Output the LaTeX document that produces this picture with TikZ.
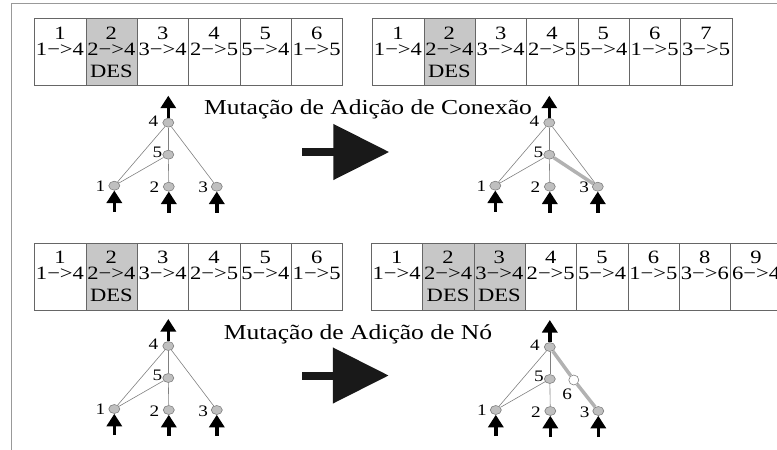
\documentclass[tikz,border=0pt]{standalone}
\usepackage{fontspec}
\setmainfont{Liberation Serif}[FakeStretch=1.2]
\usetikzlibrary{arrows.meta,shapes.geometric}

% one genome: #1 name prefix, #2 left x, #3 top y, #4 list innov/gene/disabled
\newcommand\genome[4]{%
  \foreach \n/\g/\d [count=\i from 0] in {#4} {
    \ifnum\d=1
      \def\cellfill{black!22}\def\celltext{\rule{0pt}{14pt}\n\\\g\\[6.4pt]DES}%
    \else
      \def\cellfill{white}\def\celltext{\rule{0pt}{14pt}\n\\\g}%
    \fi
    \node[cellbox, fill=\cellfill] (#1c\n) at ({#2+\i*51.35},#3) {};
    \node[celltxt] (#1t\n) at ({#2+(\i+0.5)*51.35},{#3+7}) {\celltext};
  }%
}

% one network: #1 name prefix, #2/#3 position of output neuron 4, #4 extra drawing
\newcommand\network[4]{%
  \begin{scope}[shift={(#2,#3)}, name prefix=#1]
    \node[neuron] (4) at (0,0) {};
    \node[neuron] (5) at (0,32) {};
    \node[neuron] (1) at (-54,63) {};
    \node[neuron] (2) at (0.5,64) {};
    \node[neuron] (3) at (48.5,64) {};
    \node[lbl] (l4) at (-14.8,-1.5) {4};
    \node[lbl] (l5) at (-11,29.5) {5};
    \node[lbl] (l1) at (-68,63.5) {1};
    \node[lbl] (l2) at (-13.8,65) {2};
    \node[lbl] (l3) at (34.8,65) {3};
    \draw[link] (1) -- (4);
    \draw[link] (1) -- (5);
    \draw[link] (2) -- (5);
    \draw[link] (5) -- (4);
    \coordinate (o) at (0,-27);
    \coordinate (i1) at (-54,89);
    \coordinate (i2) at (0.5,90);
    \coordinate (i3) at (48.5,90);
    \draw[ioarrow] (4.north) -- (o);
    \draw[ioarrow] (i1) -- (1.south);
    \draw[ioarrow] (i2) -- (2.south);
    \draw[ioarrow] (i3) -- (3.south);
    #4
  \end{scope}%
}

\begin{document}
\begin{tikzpicture}[x=1pt,y=-1pt,
  cellbox/.style={draw=black!60, line width=0.7pt, minimum width=51.35pt,
    minimum height=67pt, inner sep=0pt, anchor=north west},
  celltxt/.style={font=\fontsize{18.8}{15.7}\selectfont, align=center,
    anchor=north, inner sep=0pt},
  title/.style={font=\fontsize{21.3}{24}\selectfont, anchor=base, inner sep=0pt},
  neuron/.style={ellipse, draw=black!50, line width=0.6pt, fill=black!25,
    minimum width=11pt, minimum height=9pt, inner sep=0pt},
  newneuron/.style={circle, draw=black!50, line width=0.6pt, fill=white,
    minimum size=10pt, inner sep=0pt},
  lbl/.style={font=\fontsize{16}{17}\selectfont, inner sep=0pt},
  link/.style={draw=black!50, line width=0.6pt},
  newlink/.style={draw=black!30, line width=3.5pt},
  ioarrow/.style={line width=3.5pt, black, -{Triangle[length=12.5pt,width=15pt]}},
  bigarrow/.style={line width=8pt, black!90, -{Triangle[length=56pt,width=54pt]}},
  frame/.style={draw=black!40, line width=0.8pt}
]
\useasboundingbox (0,0) rectangle (777,450);

% page frame
\coordinate (fr1) at (777,3.3);
\coordinate (fr2) at (11,3.3);
\coordinate (fr3) at (11,450);
\draw[frame] (fr1) -- (fr2) -- (fr3);

% genomes
\genome{tl}{34.3}{18.3}{1/1−>4/0, 2/2−>4/1, 3/3−>4/0, 4/2−>5/0, 5/5−>4/0, 6/1−>5/0}
\genome{tr}{372.3}{18.3}{1/1−>4/0, 2/2−>4/1, 3/3−>4/0, 4/2−>5/0, 5/5−>4/0, 6/1−>5/0, 7/3−>5/0}
\genome{bl}{34.3}{242.7}{1/1−>4/0, 2/2−>4/1, 3/3−>4/0, 4/2−>5/0, 5/5−>4/0, 6/1−>5/0}
\genome{br}{371}{242.7}{1/1−>4/0, 2/2−>4/1, 3/3−>4/1, 4/2−>5/0, 5/5−>4/0, 6/1−>5/0, 8/3−>6/0, 9/6−>4/0}

% titles
\node[title] (t1) at (368,114.3) {Mutação de Adição de Conexão};
\node[title] (t2) at (358,339) {Mutação de Adição de Nó};

% networks
\network{tl-}{168.3}{122.7}{\draw[link] (3) -- (4);}
\network{tr-}{549.3}{122.7}{\draw[link] (3) -- (4); \draw[newlink] (5) -- (3);}
\network{bl-}{168.3}{346}{\draw[link] (3) -- (4);}
\network{br-}{549.8}{347}{%
  \node[newneuron] (6) at (24,33) {};
  \node[lbl] (l6) at (17.3,47) {6};
  \draw[newlink] (4) -- (6);
  \draw[newlink] (6) -- (3);}

% mutation arrows
\coordinate (ba1) at (302.3,152);
\coordinate (ba2) at (389.3,152);
\coordinate (bb1) at (302.3,375.5);
\coordinate (bb2) at (388.8,375.5);
\draw[bigarrow] (ba1) -- (ba2);
\draw[bigarrow] (bb1) -- (bb2);
\end{tikzpicture}
\end{document}
